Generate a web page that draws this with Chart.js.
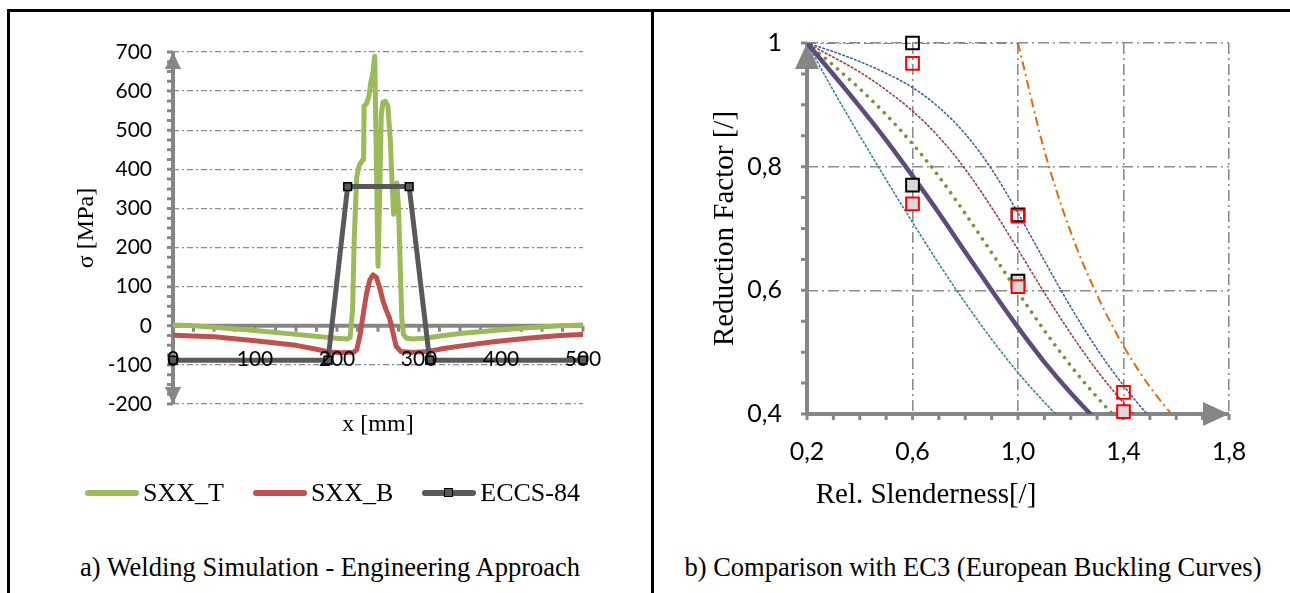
<!DOCTYPE html>
<html>
<head>
<meta charset="utf-8">
<title>Welding simulation / EC3 buckling curves</title>
<script src="https://cdn.jsdelivr.net/npm/chart.js@4.4.1/dist/chart.umd.min.js"></script>
<style>
  html, body { margin: 0; padding: 0; background: #fff; }
  body { position: relative; width: 1290px; height: 593px; overflow: hidden; font-family: 'Liberation Serif', 'Times New Roman', serif; color: #000; }
  canvas { position: absolute; top: 0; }
  #leftChart { left: 0; }
  #rightChart { left: 653px; }
  .rule { position: absolute; background: #000; z-index: 5; }
  .caption { position: absolute; top: 551px; font-size: 26.5px; line-height: 32px; white-space: nowrap; transform: translateX(-50%); }
  #legend { position: absolute; top: 478px; left: 85px; display: flex; align-items: center; font-size: 26px; line-height: 30px; white-space: nowrap; }
  .key { display: flex; align-items: center; margin-right: 29px; }
  .swatch { position: relative; width: 54px; height: 6px; border-radius: 3px; margin-right: 4px; }
  .swatch i { position: absolute; left: 50%; top: 50%; width: 7px; height: 7px; margin: -5px 0 0 -5px; border: 1.5px solid #000; }
  #xTitleR { position: absolute; top: 476px; left: 926px; font-size: 29px; line-height: 34px; white-space: nowrap; transform: translateX(-50%); }
</style>
</head>
<body>
<canvas id="leftChart" width="650" height="517"></canvas>
<canvas id="rightChart" width="637" height="517"></canvas>
<div class="rule" style="left:7px;top:9px;width:1283px;height:3px"></div>
<div class="rule" style="left:7px;top:9px;width:3px;height:584px"></div>
<div class="rule" style="left:651px;top:9px;width:3px;height:584px"></div>
<div id="legend"></div>
<div id="xTitleR">Rel. Slenderness[/]</div>
<div class="caption" style="left:330px">a) Welding Simulation - Engineering Approach</div>
<div class="caption" style="left:973px">b) Comparison with EC3 (European Buckling Curves)</div>
<script>
// ---- a) welding simulation: longitudinal stress across the plate ----
const sxxTx = [0, 25, 50, 100, 150, 170, 185, 200, 212, 216, 219, 221, 224, 227, 231, 232.5, 233, 236, 239, 241, 244, 246, 250, 252, 254, 256, 259, 262, 265, 267, 269, 271, 273, 275, 277, 279, 281, 285, 293, 309, 326, 350, 391, 432, 472, 500];
const sxxTy = [2, 0, -4, -12, -22, -26, -29, -32, -34, -30, 40, 220, 380, 410, 423, 425, 562, 568, 588, 620, 650, 689, 152, 330, 540, 572, 574, 562, 475, 372, 285, 350, 365, 300, 160, 20, -22, -32, -34, -31, -26, -20, -12, -5, 0, 2];
const sxxBx = [0, 50, 100, 150, 175, 190, 205, 220, 224, 228, 232, 236, 240, 244, 248, 252, 256, 260, 264, 268, 272, 278, 293, 310, 330, 350, 391, 432, 472, 500];
const sxxBy = [-24, -28, -38, -50, -60, -67, -69, -68, -62, -25, 30, 82, 117, 130, 124, 98, 64, 40, 20, -15, -52, -66, -68, -66, -58, -52, -41, -32, -25, -22];
const eccsX = [0, 189, 213, 288, 313, 500];
const eccsY = [-88, -88, 356, 356, -88, -88];
const leftXTicks = [0, 100, 200, 300, 400, 500];
const leftYTicks = [-200, -100, 0, 100, 200, 300, 400, 500, 600, 700];

// ---- b) EC3 buckling curves a0, a, b, c, d and Euler ----
const slenderness = [0.2, 0.3, 0.4, 0.5, 0.6, 0.7, 0.8, 0.9, 1.0, 1.1, 1.2, 1.3, 1.4, 1.5, 1.6];
const curveA0 = [1, 0.986, 0.970, 0.951, 0.928, 0.896, 0.853, 0.796, 0.725, 0.648, 0.573, 0.505, 0.446, 0.395, 0.352];
const curveA  = [1, 0.977, 0.953, 0.924, 0.890, 0.848, 0.796, 0.734, 0.666, 0.596, 0.530, 0.470, 0.418, 0.372, 0.333];
const curveB  = [1, 0.964, 0.926, 0.884, 0.837, 0.784, 0.724, 0.661, 0.597, 0.535, 0.478, 0.427, 0.382, 0.342, 0.308];
const curveC  = [1, 0.949, 0.897, 0.843, 0.785, 0.725, 0.662, 0.600, 0.540, 0.484, 0.434, 0.389, 0.349, 0.315, 0.284];
const curveD  = [1, 0.923, 0.850, 0.779, 0.710, 0.643, 0.580, 0.521, 0.467, 0.419, 0.376, 0.339, 0.306, 0.276, 0.251];
const eulerFlatX = [0.2, 1.0];
const eulerFlatY = [1, 1];
const eulerX = [1.0, 1.1, 1.2, 1.3, 1.4, 1.5, 1.6, 1.7];
const eulerY = [1, 0.826, 0.694, 0.592, 0.510, 0.444, 0.391, 0.346];
const testX = [0.6, 1.0, 1.4];
const blackOpen = [1.0, 0.722, null];
const redOpen = [0.967, 0.720, 0.435];
const blackFilled = [0.770, 0.615, null];
const redFilled = [0.740, 0.606, 0.404];
const rightXTicks = [0.2, 0.6, 1.0, 1.4, 1.8];
const rightXLabels = ['0,2', '0,6', '1,0', '1,4', '1,8'];
const rightYTicks = [0.4, 0.6, 0.8, 1];
const rightYLabels = ['0,4', '0,6', '0,8', '1'];

const GRID = '#8c8c8c';
const AXIS = '#868686';
const NONE = 'rgba(0,0,0,0)';

Chart.defaults.font.family = 'Lato';
Chart.defaults.color = '#000';

const pts = (xs, ys) => xs.map((x, i) => ({ x, y: ys[i] })).filter(p => p.y !== null);

// axis lines with arrow heads and minor ticks (Excel style)
const axisArrows = {
  id: 'axisArrows',
  beforeDatasetsDraw(chart, args, o) {
    const { ctx, scales: { x, y } } = chart;
    const x0 = x.getPixelForValue(o.yAxisAt);
    const y0 = y.getPixelForValue(o.xAxisAt);
    const yTop = y.getPixelForValue(y.max), yBot = y.getPixelForValue(y.min);
    const xL = x.getPixelForValue(x.min), xR = x.getPixelForValue(x.max);
    ctx.save();
    ctx.strokeStyle = AXIS;
    ctx.fillStyle = AXIS;
    ctx.lineWidth = 3;
    ctx.beginPath();
    for (let i = 0; ; i++) {
      const v = y.min + i * o.yMinor;
      if (v > y.max + 1e-9) break;
      const p = y.getPixelForValue(v);
      ctx.moveTo(x0, p); ctx.lineTo(x0 - o.tickLen, p);
    }
    for (let i = 0; ; i++) {
      const v = x.min + i * o.xMinor;
      if (v > x.max + 1e-9) break;
      const p = x.getPixelForValue(v);
      ctx.moveTo(p, y0); ctx.lineTo(p, y0 + o.tickLen);
    }
    ctx.stroke();
    ctx.lineWidth = 4;
    ctx.beginPath();
    ctx.moveTo(x0, yBot); ctx.lineTo(x0, yTop);
    ctx.moveTo(xL, y0); ctx.lineTo(xR, y0);
    ctx.stroke();
    const head = (tx, ty, dx, dy) => {
      const L = o.arrowLen, H = o.arrowHalf;
      const bx = tx - dx * L, by = ty - dy * L;
      ctx.beginPath();
      ctx.moveTo(tx, ty);
      ctx.lineTo(bx - dy * H, by + dx * H);
      ctx.lineTo(bx + dy * H, by - dx * H);
      ctx.closePath();
      ctx.fill();
    };
    if (o.arrows.includes('top')) head(x0, yTop, 0, -1);
    if (o.arrows.includes('bottom')) head(x0, yBot, 0, 1);
    if (o.arrows.includes('right')) head(xR, y0, 1, 0);
    ctx.restore();
  }
};

// ---------- left chart ----------
const leftChart = new Chart(document.getElementById('leftChart'), {
  type: 'line',
  data: {
    datasets: [
      { label: 'SXX_T', data: pts(sxxTx, sxxTy), borderColor: '#9BBB59', borderWidth: 5, pointRadius: 0,
        borderJoinStyle: 'round', borderCapStyle: 'round', tension: 0, order: 3 },
      { label: 'SXX_B', data: pts(sxxBx, sxxBy), borderColor: '#C0504D', borderWidth: 5, pointRadius: 0,
        borderJoinStyle: 'round', borderCapStyle: 'round', tension: 0, order: 2 },
      { label: 'ECCS-84', data: pts(eccsX, eccsY), borderColor: '#595959', borderWidth: 5,
        pointStyle: 'rect', pointRadius: 5.5, pointBackgroundColor: '#595959', pointBorderColor: '#000',
        pointBorderWidth: 1.5, tension: 0, clip: false, order: 1 }
    ]
  },
  options: {
    responsive: false,
    animation: false,
    devicePixelRatio: 1,
    layout: { padding: { left: 0, top: 52, right: 67, bottom: 0 } },
    plugins: {
      legend: { display: false },
      tooltip: { enabled: false },
      axisArrows: { yAxisAt: 0, xAxisAt: 0, yMinor: 25, xMinor: 25, tickLen: 6, arrowLen: 17, arrowHalf: 8, arrows: ['top', 'bottom'] }
    },
    scales: {
      x: {
        // labels sit just under the zero line, so they are pulled up into the plot
        type: 'linear', min: 0, max: 500, position: 'bottom',
        afterBuildTicks: s => { s.ticks = leftXTicks.map(v => ({ value: v })); },
        afterFit: s => { s.height = 113; },
        afterUpdate: s => { s._computeLabelArea = () => undefined; },
        grid: { display: false, drawTicks: false },
        border: { display: false },
        ticks: { padding: -57, z: 1, font: { size: 21 }, maxRotation: 0, autoSkip: false },
        title: { display: true, text: 'x [mm]', font: { family: 'Liberation Serif', size: 24 }, padding: { top: 0, bottom: 78 } }
      },
      y: {
        type: 'linear', min: -200, max: 700,
        afterBuildTicks: s => { s.ticks = leftYTicks.map(v => ({ value: v })); },
        afterFit: s => { s.width = 173; },
        grid: { color: c => (c.tick && c.tick.value === 0 ? NONE : GRID), lineWidth: 1.3, drawTicks: false },
        border: { display: false, dash: [6, 3, 2, 3] },
        ticks: { padding: 21, font: { size: 21 }, autoSkip: false },
        title: { display: true, text: 'σ [MPa]', font: { family: 'Liberation Serif', size: 24 }, padding: { top: 72, bottom: 0 } }
      }
    }
  },
  plugins: [axisArrows]
});

// legend built from the left datasets
const legendEl = document.getElementById('legend');
leftChart.data.datasets.forEach(ds => {
  const key = document.createElement('div');
  key.className = 'key';
  const sw = document.createElement('span');
  sw.className = 'swatch';
  sw.style.background = ds.borderColor;
  if (ds.pointStyle === 'rect') {
    const m = document.createElement('i');
    m.style.background = ds.pointBackgroundColor;
    sw.appendChild(m);
  }
  key.appendChild(sw);
  key.appendChild(document.createTextNode(ds.label));
  legendEl.appendChild(key);
});

// ---------- right chart ----------
const curve = (label, ys, color, width, dash, order) => ({
  label, data: pts(slenderness, ys), borderColor: color, borderWidth: width, borderDash: dash,
  borderCapStyle: 'round', pointRadius: 0, cubicInterpolationMode: 'monotone', order
});
const marker = (label, ys, fill, edge, order) => ({
  label, data: pts(testX, ys), showLine: false, pointStyle: 'rect', pointRadius: 9,
  pointBackgroundColor: fill, pointBorderColor: edge, pointBorderWidth: 2, clip: false, order
});

new Chart(document.getElementById('rightChart'), {
  type: 'line',
  data: {
    datasets: [
      marker('FE red, filled', redFilled, '#D9D9D9', '#FF0000', 0),
      marker('FE red, open', redOpen, NONE, '#FF0000', 1),
      marker('FE black, filled', blackFilled, '#D9D9D9', '#000000', 2),
      marker('FE black, open', blackOpen, NONE, '#000000', 3),
      curve('Curve c', curveC, '#604A7B', 4.5, [], 4),
      curve('Curve b', curveB, '#77933C', 3.6, [0.01, 8], 5),
      curve('Curve a0', curveA0, '#3A63A8', 1.6, [1.6, 2.6], 6),
      curve('Curve a', curveA, '#A03C3A', 1.6, [1.6, 2.6], 7),
      curve('Curve d', curveD, '#31859C', 1.6, [1.6, 2.6], 8),
      { label: 'Euler', data: pts(eulerFlatX, eulerFlatY), borderColor: '#E46C0A', borderWidth: 2,
        borderDash: [9, 4, 2, 4], pointRadius: 0, order: 9 },
      { label: 'Euler curve', data: pts(eulerX, eulerY), borderColor: '#E46C0A', borderWidth: 2,
        borderDash: [9, 4, 2, 4], pointRadius: 0, cubicInterpolationMode: 'monotone', order: 9 }
    ]
  },
  options: {
    responsive: false,
    animation: false,
    devicePixelRatio: 1,
    layout: { padding: { left: 0, top: 43, right: 61, bottom: 0 } },
    plugins: {
      legend: { display: false },
      tooltip: { enabled: false },
      axisArrows: { yAxisAt: 0.2, xAxisAt: 0.4, yMinor: 0.05, xMinor: 0.1, tickLen: 6, arrowLen: 26, arrowHalf: 12, arrows: ['top', 'right'] }
    },
    scales: {
      x: {
        type: 'linear', min: 0.2, max: 1.8,
        afterBuildTicks: s => { s.ticks = rightXTicks.map(v => ({ value: v })); },
        afterFit: s => { s.height = 103; },
        grid: { color: c => (c.tick && Math.abs(c.tick.value - 0.2) < 1e-6 ? NONE : GRID), lineWidth: 1.6, drawTicks: false },
        border: { display: false, dash: [11, 4, 2, 4] },
        ticks: { padding: 23, font: { size: 25 }, maxRotation: 0, autoSkip: false, callback: (v, i) => rightXLabels[i] }
      },
      y: {
        type: 'linear', min: 0.4, max: 1,
        afterBuildTicks: s => { s.ticks = rightYTicks.map(v => ({ value: v })); },
        afterFit: s => { s.width = 154; },
        grid: { color: c => (c.tick && Math.abs(c.tick.value - 0.4) < 1e-6 ? NONE : GRID), lineWidth: 1.6, drawTicks: false },
        border: { display: false, dash: [11, 4, 2, 4] },
        ticks: { padding: 25, font: { size: 25 }, autoSkip: false, callback: (v, i) => rightYLabels[i] },
        title: { display: true, text: 'Reduction Factor [/]', font: { family: 'Liberation Serif', size: 29 }, padding: { top: 55, bottom: 0 } }
      }
    }
  },
  plugins: [axisArrows]
});
</script>
</body>
</html>
